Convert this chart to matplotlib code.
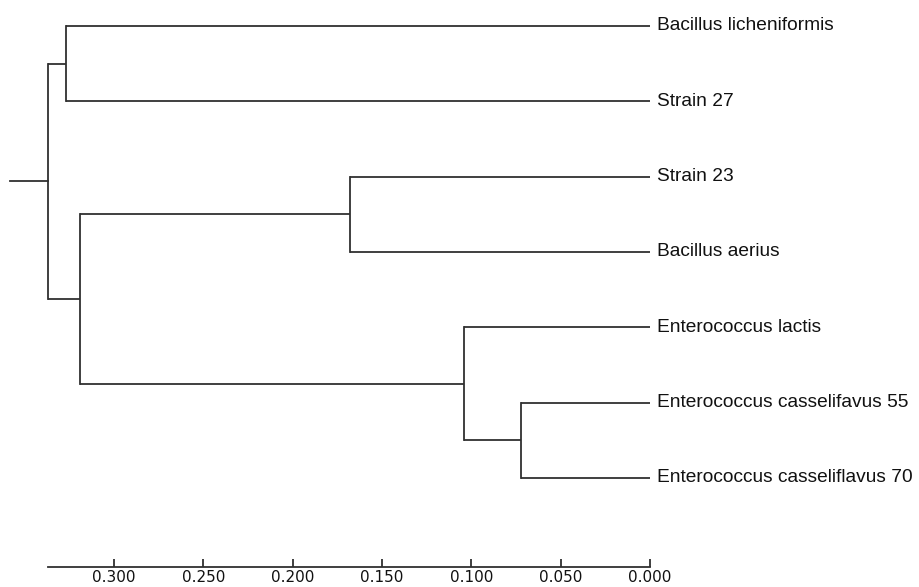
import matplotlib
matplotlib.use("Agg")
import matplotlib.pyplot as plt

# Leaf labels, top to bottom
leaves = [
    "Bacillus licheniformis",
    "Strain 27",
    "Strain 23",
    "Bacillus aerius",
    "Enterococcus lactis",
    "Enterococcus casselifavus 55",
    "Enterococcus casseliflavus 70",
]

# Agglomeration steps: (child a, child b, height); new node ids continue after leaves
merge_a = [5, 4, 2, 9, 0, 11]
merge_b = [6, 7, 3, 8, 1, 10]
merge_h = [0.072, 0.104, 0.168, 0.319, 0.327, 0.337]

root_stub = 0.358
tick_values = [0.300, 0.250, 0.200, 0.150, 0.100, 0.050, 0.000]
tick_labels = ["0.300", "0.250", "0.200", "0.150", "0.100", "0.050", "0.000"]

line_color = "#303030"
lw = 1.3

W, H = 919, 587
fig = plt.figure(figsize=(W / 100, H / 100), dpi=100)
ax = fig.add_axes([0, 0, 1, 1])

# pixel-consistent data limits
px_per_unit = 1787.0
x0_px = 650.0
ax.set_xlim(x0_px / px_per_unit, -(W - x0_px) / px_per_unit)
row_px, top_px = 75.33, 26.0
ax.set_ylim((H - top_px) / row_px, -top_px / row_px)

# node positions
ypos = {i: float(i) for i in range(len(leaves))}
xpos = {i: 0.0 for i in range(len(leaves))}
nid = len(leaves)
for a, b, h in zip(merge_a, merge_b, merge_h):
    ya, yb = ypos[a], ypos[b]
    ax.plot([xpos[a], h], [ya, ya], color=line_color, lw=lw, solid_capstyle="butt")
    ax.plot([xpos[b], h], [yb, yb], color=line_color, lw=lw, solid_capstyle="butt")
    ax.plot([h, h], [ya, yb], color=line_color, lw=lw, solid_capstyle="projecting")
    ypos[nid] = (ya + yb) / 2
    xpos[nid] = h
    nid += 1

root = nid - 1
ax.plot([root_stub, xpos[root]], [ypos[root], ypos[root]], color=line_color, lw=lw)

for i, name in enumerate(leaves):
    ax.text(-7 / px_per_unit, ypos[i], name, ha="left", va="center",
            fontsize=13.8, family="Liberation Sans", color="#111111")

# scale axis along the bottom
for s in ["top", "left", "right"]:
    ax.spines[s].set_visible(False)
axis_y = (567 - top_px) / row_px
ax.spines["bottom"].set_position(("data", axis_y))
ax.spines["bottom"].set_bounds(merge_h[-1], 0.0)
ax.spines["bottom"].set_color(line_color)
ax.spines["bottom"].set_linewidth(lw)
ax.set_xticks(tick_values)
ax.set_xticklabels(tick_labels, family="Liberation Sans Narrow", fontsize=11)
ax.tick_params(axis="x", direction="in", length=6, width=lw, color=line_color,
               pad=2.5, labelcolor="#111111")
ax.set_yticks([])
ax.patch.set_visible(False)

fig.savefig("out.png", dpi=100, facecolor="white")
